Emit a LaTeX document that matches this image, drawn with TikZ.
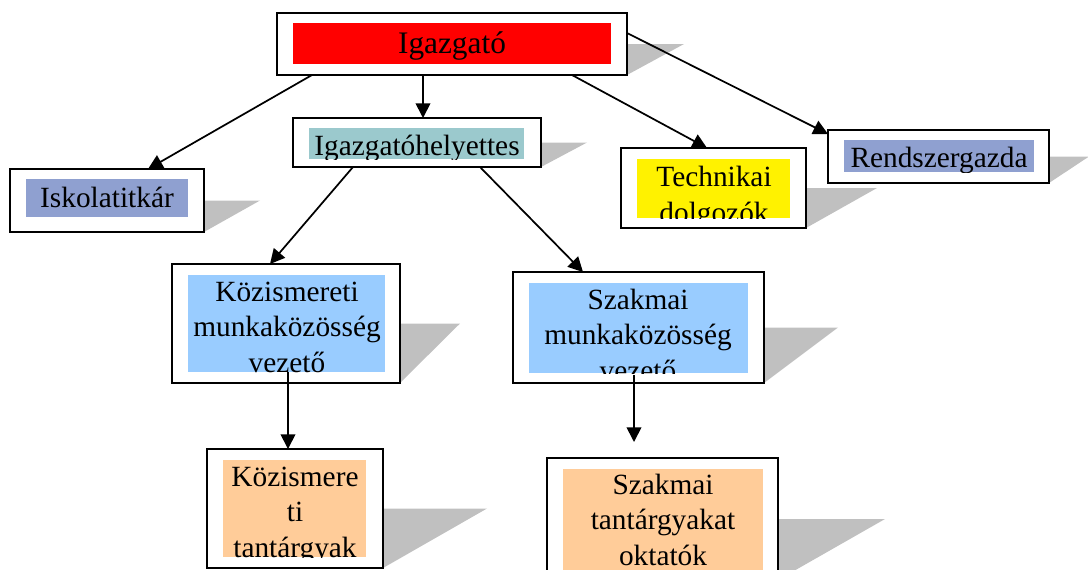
\documentclass[tikz,border=0pt]{standalone}
\usepackage{fontspec}
\setmainfont{Liberation Serif}
\usetikzlibrary{arrows.meta,calc,fit,backgrounds}

\definecolor{igred}{RGB}{255,0,0}
\definecolor{lavblue}{RGB}{143,160,208}
\definecolor{paleteal}{RGB}{155,201,205}
\definecolor{skyblue}{RGB}{153,204,255}
\definecolor{peach}{RGB}{255,204,153}
\definecolor{shadowgray}{RGB}{192,192,192}

\tikzset{
	orgframe/.style={draw, line width=1.5pt, fill=white, inner sep=0pt, outer sep=0pt},
	orglabel/.style={anchor=base, align=center, inner sep=0pt, font=\fontsize{22}{26.3}\selectfont},
	conn/.style={line width=1.3pt, -{Triangle[length=11pt,width=11pt]}},
}

% name, outer corners, inner corners, colour, shadow length, base of last line, text
\newcommand{\orgbox}[9]{%
	\node[orgframe, fit={(#2) (#3)}] (#1) {};
	\begin{pgfonlayer}{background}
		\fill[shadowgray] (#1.east) -- ($(#1.east)+(#7,0)$) -- (#1.south east) -- cycle;
	\end{pgfonlayer}
	\fill[#6] (#4) rectangle (#5);
	\begin{scope}
		\clip (#4) rectangle (#5);
		\node[orglabel] (#1-text) at (#8) {#9};
	\end{scope}
}

\begin{document}
\begin{tikzpicture}[x=0.75pt, y=-0.75pt]
\useasboundingbox (0,0) rectangle (1088,569);

\orgbox{igazgato}{277,13}{627,75}{293,23}{611,64}{igred}{57}{452,53}{\fontsize{23.5}{28}\selectfont Igazgató}
\orgbox{iskola}{10,169}{204,232}{26,179}{188,217}{lavblue}{56}{107,207}{Iskolatitkár}
\orgbox{helyettes}{293,118}{541,167}{309,128}{524,159}{paleteal}{46}{417,155}{Igazgatóhelyettes}
\orgbox{technikai}{621,148}{806,228}{637,159}{790,218}{yellow}{71}{714,222}{Technikai\\dolgozók}
\orgbox{rendszer}{828,130}{1049,183}{844,140}{1034,172}{lavblue}{40}{939,167}{Rendszergazda}
\orgbox{kozmv}{172,264}{400,383}{188,275}{385,372}{skyblue}{60}{287,372}{Közismereti\\munkaközösség\\vezető}
\orgbox{szakmv}{513,272}{764,383}{529,283}{748,373}{skyblue}{74}{638,380}{Szakmai\\munkaközösség\\vezető}
\orgbox{koztt}{207,449}{383,568}{223,460}{366,557}{peach}{104}{295,557}{Közismere\\ti\\tantárgyak}
\orgbox{szakot}{547,458}{778,580}{563,469}{763,574}{peach}{107}{663,565}{Szakmai\\tantárgyakat\\oktatók}

\draw[conn] ($(igazgato.south west)+(35,0)$) -- ($(iskola.north west)+(138,0)$);
\draw[conn] ($(igazgato.south west)+(146,0)$) -- ($(helyettes.north west)+(130,0)$);
\draw[conn] ($(igazgato.south west)+(295,0)$) -- ($(technikai.north west)+(86,0)$);
\draw[conn] ($(igazgato.north east)+(0,20)$) -- ($(rendszer.north west)+(0,4)$);

\draw[conn] ($(helyettes.south west)+(60,0)$) -- ($(kozmv.north west)+(98,0)$);
\draw[conn] ($(helyettes.south west)+(187,0)$) -- ($(szakmv.north west)+(70,0)$);

\coordinate (szakot-in) at ($(szakot.north west)+(87,-16)$);
\draw[conn] ($(kozmv.south west)+(116,-11)$) -- ($(koztt.north west)+(81,0)$);
\draw[conn] ($(szakmv.south west)+(121,-8)$) -- (szakot-in);
\end{tikzpicture}
\end{document}
